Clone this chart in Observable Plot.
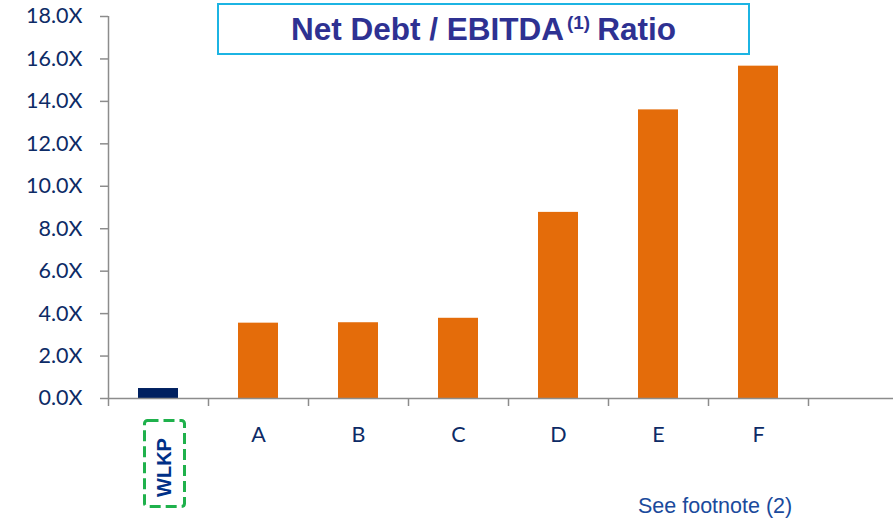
<!DOCTYPE html>
<html><head><meta charset="utf-8">
<script src="https://cdn.jsdelivr.net/npm/d3@7"></script>
<script src="https://cdn.jsdelivr.net/npm/@observablehq/plot@0.6"></script>
<style>
body{margin:0;background:#fff}
#wrap{position:relative;width:893px;height:518px;overflow:hidden;background:#fff}
#title{position:absolute;left:217px;top:3px;width:533px;height:52px;box-sizing:border-box;border:2px solid #1cb4e3;
  display:flex;align-items:center;justify-content:center;font-family:"Liberation Sans",Arial,sans-serif;font-weight:bold;
  font-size:31.5px;color:#2e3192;white-space:nowrap}
#title .sup{font-size:0.6em;position:relative;top:-0.55em;margin-left:3px;margin-right:7px}
#foot{position:absolute;left:638px;top:496px;font-family:"Liberation Sans",Arial,sans-serif;font-size:21.5px;line-height:1;color:#1a4a9c;white-space:nowrap}
#box{position:absolute;left:0;top:0;pointer-events:none}
</style></head>
<body><div id="wrap"></div>
<script>
const categories = ["WLKP", "A", "B", "C", "D", "E", "F"];
const values = [0.47, 3.55, 3.57, 3.78, 8.77, 13.6, 15.66];
const yTicks = [0, 2, 4, 6, 8, 10, 12, 14, 16, 18];
const titleText = "Net Debt / EBITDA";
const titleSup = "(1)";
const titleEnd = "Ratio";
const footnote = "See footnote (2)";

const data = categories.map((name, i) => ({name, i, value: values[i], own: i === 0}));
const boundaries = d3.range(0, categories.length + 1);

const navy = "#002060", orange = "#E46C0A", axisGray = "#8c8c8c", textNavy = "#0d2b66";

const plot = Plot.plot({
  width: 893, height: 518,
  marginLeft: 108, marginRight: 0, marginTop: 16, marginBottom: 120,
  x: {type: "linear", domain: [0, 7.85], axis: null},
  y: {domain: [0, 18], axis: null},
  color: {type: "identity"},
  style: {fontFamily: "Lato, sans-serif", background: "#fff"},
  marks: [
    Plot.rectY(data, {x1: d => d.i, x2: d => d.i + 1, y: "value", insetLeft: 30, insetRight: 30,
      fill: d => d.own ? navy : orange}),
    Plot.ruleY([0], {stroke: axisGray, strokeWidth: 1.5}),
    Plot.ruleX([0], {stroke: axisGray, strokeWidth: 1.5}),
    Plot.axisY({ticks: yTicks, tickSize: 8, tickPadding: 18, tickFormat: d => d.toFixed(1) + "X", label: null,
      stroke: axisGray, strokeWidth: 1.5, fill: textNavy, fontSize: 21.5, strokeOpacity: 1}),
    Plot.axisX({ticks: boundaries, tickSize: 8, tickFormat: () => "", label: null, stroke: axisGray, strokeWidth: 1.5, strokeOpacity: 1}),
    Plot.text(data.filter(d => !d.own), {x: d => d.i + 0.5, y: 0, text: "name", dy: 37,
      fill: textNavy, fontSize: 21.5}),
    Plot.text(data.filter(d => d.own), {x: d => d.i + 0.5, y: 0, text: "name", dy: 69, dx: 6, rotate: -90,
      fill: "#003087", fontSize: 20, fontWeight: "bold", fontFamily: "Liberation Sans, Arial, sans-serif"})
  ]
});

const wrap = document.getElementById("wrap");
wrap.appendChild(plot);

const t = document.createElement("div");
t.id = "title";
t.innerHTML = `<span>${titleText}<span class="sup">${titleSup}</span>${titleEnd}</span>`;
wrap.appendChild(t);

const f = document.createElement("div");
f.id = "foot";
f.textContent = footnote;
wrap.appendChild(f);

// dashed highlight box around the WLKP label
const svg = d3.select(wrap).append("svg").attr("id", "box").attr("width", 893).attr("height", 518);
svg.append("rect").attr("x", 144.5).attr("y", 420.5).attr("width", 40).attr("height", 86).attr("rx", 3)
  .attr("fill", "none").attr("stroke", "#1fb14c").attr("stroke-width", 3).attr("stroke-dasharray", "11 5");
</script>
</body></html>
